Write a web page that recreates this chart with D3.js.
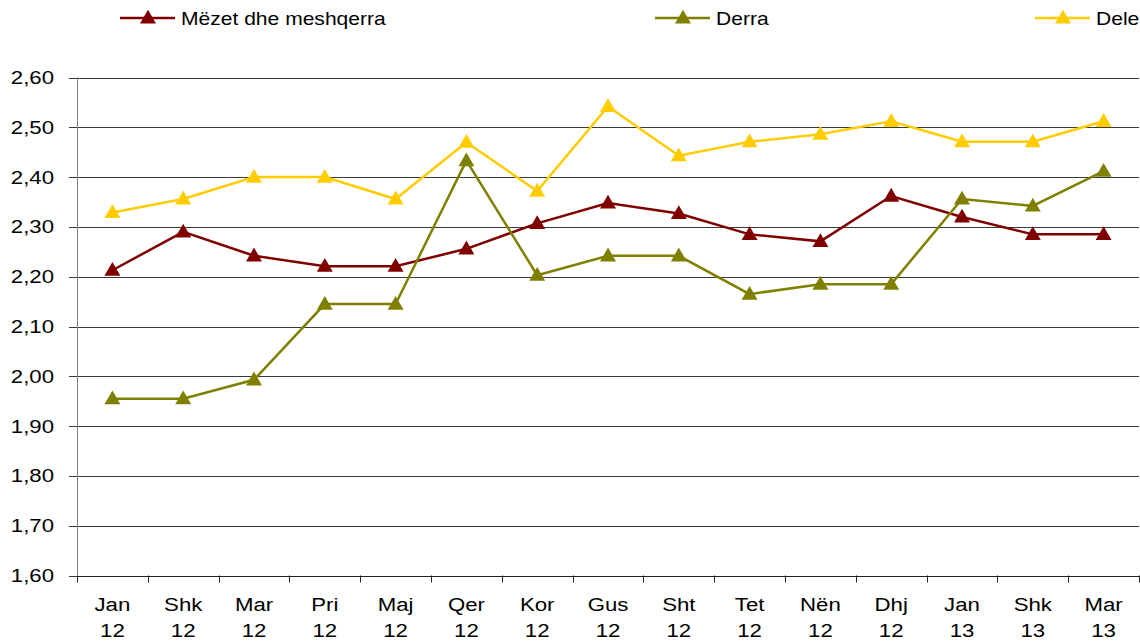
<!DOCTYPE html>
<html><head><meta charset="utf-8">
<script src="https://cdn.jsdelivr.net/npm/d3@7"></script>
<style>body{margin:0;background:#fff}svg{display:block}text{font-family:"Liberation Sans",Arial,sans-serif;fill:#000}</style>
</head><body>
<script>
const months = ["Jan","Shk","Mar","Pri","Maj","Qer","Kor","Gus","Sht","Tet","Nën","Dhj","Jan","Shk","Mar"];
const years  = ["12","12","12","12","12","12","12","12","12","12","12","12","13","13","13"];
const seriesNames = ["Mëzet dhe meshqerra","Derra","Dele"];
const mezet = [2.213,2.290,2.242,2.221,2.221,2.256,2.307,2.348,2.327,2.285,2.271,2.362,2.320,2.285,2.285];
const derra = [1.955,1.955,1.993,2.145,2.145,2.433,2.203,2.242,2.242,2.165,2.185,2.185,2.356,2.342,2.412];
const dele  = [2.329,2.356,2.400,2.400,2.356,2.470,2.372,2.542,2.443,2.471,2.486,2.512,2.471,2.471,2.512];
const yTicks = [1.6,1.7,1.8,1.9,2.0,2.1,2.2,2.3,2.4,2.5,2.6];
const colors = ["#800000","#808000","#FFCC00"];

const W=1140,H=641, L=77, R=1139, T=77.5, B=575.5, SX=1.17;
const svg=d3.select("body").append("svg").attr("width",W).attr("height",H);
const idx=d3.range(months.length);
const x=d3.scaleBand().domain(idx).range([L,R]);
const y=d3.scaleLinear().domain([1.6,2.6]).range([B,T]);
const fmt=v=>d3.format(".2f")(v).replace(".",",");

// gridlines
svg.append("g").selectAll("line").data(yTicks.slice(1)).join("line")
  .attr("x1",L).attr("x2",R).attr("y1",d=>Math.round(y(d))+0.5).attr("y2",d=>Math.round(y(d))+0.5)
  .attr("stroke","#3a3a3a").attr("stroke-width",1);

// y axis
const ya=svg.append("g");
ya.append("line").attr("x1",L+0.5).attr("x2",L+0.5).attr("y1",T).attr("y2",B).attr("stroke","#808080");
ya.selectAll("line.t").data(yTicks).join("line").attr("class","t")
  .attr("x1",L-8).attr("x2",L).attr("y1",d=>Math.round(y(d))+0.5).attr("y2",d=>Math.round(y(d))+0.5).attr("stroke","#3a3a3a");
ya.selectAll("text").data(yTicks).join("text")
  .attr("transform",d=>`translate(54,${y(d)+6.5}) scale(${SX},1)`)
  .attr("text-anchor","end").style("font-size","19px").text(fmt);

// x axis
const xa=svg.append("g");
xa.append("line").attr("x1",L).attr("x2",R).attr("y1",Math.round(B)+0.5).attr("y2",Math.round(B)+0.5).attr("stroke","#222");
xa.selectAll("line.t").data(d3.range(months.length+1)).join("line").attr("class","t")
  .attr("x1",d=>Math.round(L+d*x.step())+0.5).attr("x2",d=>Math.round(L+d*x.step())+0.5)
  .attr("y1",B).attr("y2",B+7).attr("stroke","#222");
const xl=xa.selectAll("g.l").data(idx).join("g").attr("class","l");
xl.append("text").attr("transform",i=>`translate(${x(i)+x.bandwidth()/2},611) scale(${SX},1)`)
  .attr("text-anchor","middle").style("font-size","19px").text(i=>months[i]);
xl.append("text").attr("transform",i=>`translate(${x(i)+x.bandwidth()/2},637) scale(${SX},1)`)
  .attr("text-anchor","middle").style("font-size","19px").text(i=>years[i]);

const tri=d3.symbol().type(d3.symbolTriangle).size(110);
const data=[mezet,derra,dele];
const line=d3.line().x((d,i)=>x(i)+x.bandwidth()/2).y(d=>y(d));
data.forEach((s,k)=>{
  const g=svg.append("g");
  g.append("path").attr("d",line(s)).attr("fill","none").attr("stroke",colors[k]).attr("stroke-width",2.5);
  g.selectAll("path.m").data(s).join("path").attr("class","m")
    .attr("transform",(d,i)=>`translate(${x(i)+x.bandwidth()/2},${y(d)+1})`)
    .attr("d",tri).attr("fill",colors[k]);
});

// legend
const legX=[120,655,1035];
seriesNames.forEach((n,k)=>{
  const g=svg.append("g");
  g.append("line").attr("x1",legX[k]).attr("x2",legX[k]+55).attr("y1",18).attr("y2",18).attr("stroke",colors[k]).attr("stroke-width",2.5);
  g.append("path").attr("transform",`translate(${legX[k]+28},19)`).attr("d",tri).attr("fill",colors[k]);
  g.append("text").attr("transform",`translate(${legX[k]+61},24.5) scale(${SX},1)`).style("font-size","18px").text(n);
});
</script>
</body></html>
